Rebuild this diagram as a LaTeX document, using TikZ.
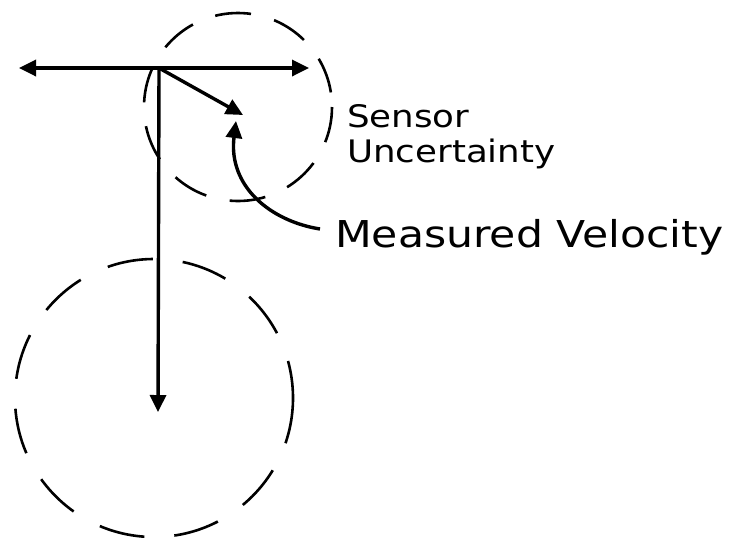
\documentclass[tikz,border=0pt]{standalone}
\usepackage{fontspec}
\newfontfamily\handfont[FakeStretch=1.15]{DejaVu Sans}
\usepackage{tikz}
\usetikzlibrary{arrows.meta}
\tikzset{
  vec/.style={line width=3.4pt,-{Triangle[length=17pt,width=16pt]}},
  unc/.style={line width=2.6pt,dash pattern=on 46pt off 30pt},
  lbl/.style={anchor=base west,inner sep=0pt,font=\handfont}
}
\begin{document}
\begin{tikzpicture}[x=1pt,y=-1pt]
\useasboundingbox (0,0) rectangle (730,542);
% ---- velocity components and uncertainty ----
\coordinate (origin) at (159,68);
\coordinate (west) at (19,68);
\coordinate (east) at (309,68);
\coordinate (meas) at (243,115);
\coordinate (south) at (158,412);
\draw[unc,dash pattern=on 36pt off 24pt] (238,107) circle (94);
\draw[unc] (154,398) circle (139);
\draw[vec,{Triangle[length=17pt,width=16pt]}-{Triangle[length=17pt,width=16pt]}] (west) -- (east);
\draw[vec] (origin) -- (meas);
\draw[vec] (origin) -- (south);
\node[lbl,align=left,font=\handfont\fontsize{31}{35}\selectfont] (sensor) at (347,162) {Sensor\\Uncertainty};
\node[lbl,font=\handfont\fontsize{37}{40}\selectfont] (measured) at (335,247) {Measured Velocity};
\coordinate (tail) at (320,229);
\draw[vec] (tail) .. controls (270,221) and (228,186) .. (236,121);
\end{tikzpicture}
\end{document}
